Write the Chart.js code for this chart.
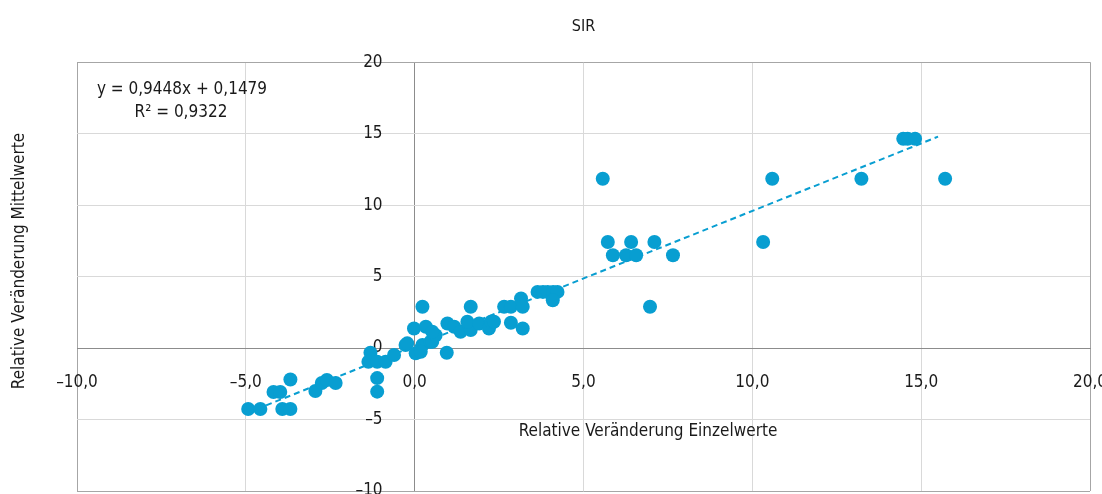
<!DOCTYPE html>
<html><head><meta charset="utf-8">
<script src="https://cdn.jsdelivr.net/npm/chart.js@4/dist/chart.umd.min.js"></script>
<style>html,body{margin:0;padding:0;background:#fff}#wrap{width:1102px;height:494px}</style>
</head><body><div id="wrap"><canvas id="c" width="1102" height="494"></canvas></div>
<script>
// ---- data ----
const xValues = [-4.93,-4.57,-3.92,-3.68,-4.18,-3.98,-3.68,-2.94,-2.75,-2.6,-2.34,-1.11,-1.11,
  -1.31,-1.37,-1.11,-0.86,-0.61,-0.27,-0.22,0.03,0.23,0.47,0.52,0.95,0.62,0.18,
  0.23,-0.02,0.33,0.52,0.97,1.17,1.36,1.66,1.66,1.56,1.91,2.2,2.26,2.35,2.65,2.85,3.15,3.2,2.85,3.2,3.64,3.8,3.94,4.1,4.23,4.09,
  5.57,5.72,5.87,6.26,6.41,6.56,7.1,7.65,6.97,10.32,10.59,13.23,14.47,14.6,14.82,15.71];
const yValues = [-4.26,-4.26,-4.26,-4.26,-3.07,-3.07,-2.2,-3.0,-2.44,-2.23,-2.44,-2.1,-3.05,
  -0.33,-0.96,-0.96,-0.96,-0.49,0.21,0.33,-0.37,0.21,0.44,0.44,-0.33,0.9,-0.26,
  2.89,1.37,1.49,1.14,1.72,1.49,1.14,2.89,1.26,1.84,1.72,1.37,1.84,1.84,2.89,2.89,3.47,2.89,1.77,1.37,3.93,3.93,3.93,3.93,3.93,3.35,
  11.85,7.42,6.49,6.49,7.42,6.49,7.42,6.49,2.89,7.42,11.85,11.85,14.64,14.64,14.64,11.85];
const trendX = [-4.4, 15.5];
const trendY = [-4.01, 14.79];
const xTickLabels = ['\u201310,0','\u20135,0','0,0','5,0','10,0','15,0','20,0'];
const yTickLabels = ['\u201310','\u20135','0','5','10','15','20'];
const chartTitle = 'SIR';
const xTitle = 'Relative Ver\u00e4nderung Einzelwerte';
const yTitle = 'Relative Ver\u00e4nderung Mittelwerte';
const equationLines = ['y = 0,9448x + 0,1479', 'R\u00b2 = 0,9322'];

// ---- chart ----
const FONT = "'Liberation Sans Narrow', 'DejaVu Sans Condensed', 'Open Sans', sans-serif";
const BLUE = '#089ed1';

const points = xValues.map((x, i) => ({x, y: yValues[i]}));
const trend = trendX.map((x, i) => ({x, y: trendY[i]}));

function gridColor(ctx) {
  const v = ctx.tick && ctx.tick.value;
  if (v === -10 || v === 20) return '#a6a6a6';
  if (v === 0) return '#8c8c8c';
  return '#d9d9d9';
}
function noSpace(scale) {
  if (scale.isHorizontal()) scale.height = 0; else scale.width = 0;
  scale.paddingLeft = 0; scale.paddingRight = 0;
  scale.paddingTop = 0; scale.paddingBottom = 0;
}

const textPlugin = {
  id: 'extraText',
  afterDraw(chart) {
    const c = chart.ctx;
    c.save();
    c.fillStyle = '#1a1a1a';
    c.font = '17px ' + FONT;
    c.textAlign = 'center';
    c.textBaseline = 'middle';
    c.fillText(xTitle, 648, 432);
    c.fillText(equationLines[0], 182, 90);
    c.fillText(equationLines[1], 181, 113);
    c.translate(20, 261);
    c.rotate(-Math.PI / 2);
    c.fillText(yTitle, 0, 0);
    c.restore();
  }
};

new Chart(document.getElementById('c'), {
  type: 'scatter',
  data: {
    datasets: [
      {
        type: 'line', label: 'Trend', data: trend,
        borderColor: BLUE, borderWidth: 2, borderDash: [6, 4],
        pointRadius: 0, fill: false, order: 2
      },
      {
        label: 'SIR', data: points,
        backgroundColor: BLUE, borderWidth: 0,
        pointRadius: 7, pointHoverRadius: 7, order: 1
      }
    ]
  },
  options: {
    responsive: false,
    animation: false,
    devicePixelRatio: 1,
    layout: { padding: { left: 77, right: 12, top: 0, bottom: 3 }, autoPadding: false },
    plugins: {
      legend: { display: false },
      tooltip: { enabled: false },
      title: {
        display: true, text: chartTitle, color: '#1a1a1a',
        font: { family: FONT, size: 16, weight: 'normal' },
        padding: { top: 17, bottom: 26 }
      }
    },
    scales: {
      x: {
        type: 'linear', min: -10, max: 20,
        position: { y: 0 },
        afterFit: noSpace,
        grid: { color: gridColor, drawTicks: false, lineWidth: 1 },
        border: { color: '#8c8c8c', width: 1 },
        ticks: {
          stepSize: 5, padding: 24, color: '#1a1a1a',
          font: { family: FONT, size: 17 },
          maxRotation: 0, autoSkip: false,
          callback: (v, i) => xTickLabels[i]
        }
      },
      y: {
        type: 'linear', min: -10, max: 20,
        position: { x: -0.95 },
        afterFit: noSpace,
        grid: { color: gridColor, drawTicks: false, lineWidth: 1 },
        border: { display: false },
        ticks: {
          stepSize: 5, padding: 0, color: '#1a1a1a',
          font: { family: FONT, size: 17 },
          autoSkip: false,
          callback: (v, i) => yTickLabels[i]
        }
      }
    }
  },
  plugins: [textPlugin]
});
</script></body></html>
